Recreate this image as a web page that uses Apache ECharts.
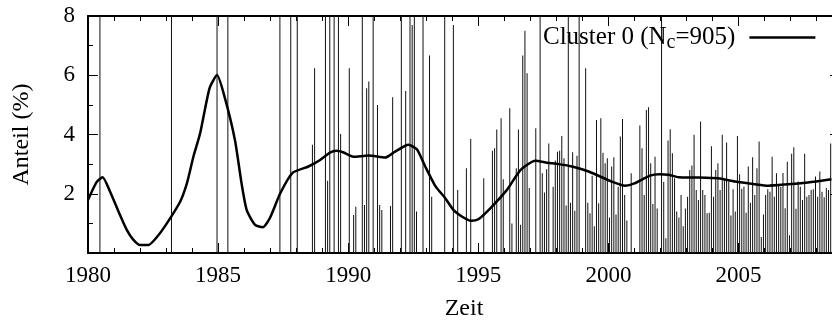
<!DOCTYPE html>
<html>
<head>
<meta charset="utf-8">
<script src="https://cdn.jsdelivr.net/npm/echarts@6/dist/echarts.min.js"></script>
<style>
  html, body { margin: 0; padding: 0; background: #fff; }
  #chart { width: 832px; height: 320px; }
</style>
</head>
<body>
<div id="chart"></div>
<script>
// Monthly share (%) of cluster 0, one row per year starting January 1980.
// Months where the cluster holds (nearly) all documents run far above the axis.
const startYear = 1980;
const monthlyShare = [
  0, 0, 0, 0, 0, 100, 0, 0, 0, 0, 0, 0,                               // 1980
  0, 0, 0, 0, 0, 0, 0, 0, 0, 0, 0, 0,                                 // 1981
  0, 0, 0, 0, 0, 0, 0, 0, 0, 0, 0, 0,                                 // 1982
  0, 0, 100, 0, 0, 0, 0, 0, 0, 0, 0, 0,                               // 1983
  0, 0, 0, 0, 0, 0, 0, 0, 0, 0, 0, 100,                               // 1984
  0, 0, 0, 0, 100, 0, 0, 0, 0, 0, 0, 0,                               // 1985
  0, 0, 0, 0, 0, 0, 0, 0, 0, 0, 0, 0,                                 // 1986
  0, 0, 0, 0, 100, 0, 0, 0, 0, 100, 0, 0,                             // 1987
  100, 0, 0, 0, 0, 0, 0, 3.65, 6.24, 0, 0, 0,                         // 1988
  0, 100, 2.44, 100, 0, 100, 0, 100, 4.02, 0, 0, 0,                   // 1989
  6.24, 0, 1.28, 1.56, 0, 0, 100, 1.62, 5.56, 5.79, 0, 100,           // 1990
  0, 5.0, 1.62, 1.45, 0, 0, 0, 1.59, 5.26, 0, 0, 0,                   // 1991
  100, 0, 5.47, 0, 100, 7.7, 100, 1.4, 0, 0, 100, 0,                  // 1992
  0, 6.67, 1.9, 0, 0, 0, 0, 0, 100, 0, 0, 0,                          // 1993
  7.7, 0, 2.13, 0, 0, 0, 2.86, 0, 3.85, 0, 0, 0,                      // 1994
  0, 0, 2.52, 0, 0, 0, 3.45, 3.54, 4.17, 0, 4.55, 2.49,               // 1995
  0, 0, 4.89, 1.0, 0, 2.86, 4.17, 0.95, 6.67, 7.5, 6.07, 2.19,        // 1996
  0, 0, 4.21, 0, 12, 2.69, 2.04, 2.83, 3.7, 0, 2.24, 3.12,            // 1997
  3.42, 3.45, 3.95, 3.2, 1.6, 12, 1.7, 3.4, 1.43, 3.28, 12, 0,        // 1998
  0, 6.24, 1.7, 1.34, 2.61, 0.9, 4.49, 1.68, 4.55, 3.38, 3.03, 3.2,   // 1999
  1.2, 2.92, 3.23, 1.3, 2.24, 3.93, 4.52, 1.96, 1.1, 0, 2.69, 0,      // 2000
  0, 0, 4.3, 3.54, 1.96, 4.83, 4.92, 3.03, 1.65, 3.25, 1.5, 0,        // 2001
  12, 2.4, 0.5, 3.8, 4.18, 3.37, 2.52, 1.4, 1.2, 1.96, 0.9, 1.5,      // 2002
  1.9, 2.8, 2.95, 3.99, 2.13, 1.79, 4.44, 2.13, 1.96, 1.34, 1.36, 3.6,// 2003
  1.9, 2.8, 3.03, 2.13, 3.99, 2.5, 3.73, 2.41, 1.27, 2.15, 1.4, 3.95, // 2004
  2.66, 2.17, 2.24, 1.36, 2.92, 1.7, 3.23, 1.96, 2.86, 3.76, 0.54, 1.3,// 2005
  1.96, 2.15, 2.07, 3.25, 1.9, 2.69, 2.3, 2.24, 2.7, 1.51, 3.08, 0.6, // 2006
  3.35, 3.57, 1.49, 2.41, 2.24, 1.79, 3.35, 1.9, 1.96, 2.13, 2.15, 2.58,// 2007
  1.9, 2.75, 2.07, 1.88, 2.19, 2.13, 3.7                              // 2008
];

// Smoothed trend of the share
const trendTime = [
  1980.0, 1980.33, 1980.56, 1980.85, 1981.23, 1981.49, 1981.73, 1982.0, 1982.32,
  1982.64, 1983.03, 1983.54, 1983.8, 1984.05, 1984.31, 1984.67, 1984.96, 1985.27,
  1985.65, 1985.9, 1986.1, 1986.42, 1986.72, 1987.0, 1987.38, 1987.87, 1988.47,
  1988.92, 1989.3, 1989.55, 1989.8, 1990.2, 1990.78, 1991.42, 1991.8, 1992.32,
  1992.64, 1992.96, 1993.35, 1993.73, 1994.05, 1994.43, 1994.72, 1995.0, 1995.46,
  1996.1, 1996.62, 1997.19, 1997.64, 1998.09, 1998.6, 1999.24, 2000.13, 2000.65,
  2001.0, 2001.6, 2001.95, 2002.3, 2002.7, 2003.33, 2004.22, 2004.86, 2005.62,
  2006.14, 2006.9, 2007.67, 2008.57
];
const trendShare = [
  1.79, 2.39, 2.56, 2.07, 1.28, 0.78, 0.46, 0.27, 0.27,
  0.53, 1.0, 1.73, 2.35, 3.25, 4.04, 5.56, 6.01, 5.2,
  3.8, 2.36, 1.45, 0.95, 0.87, 1.2, 2.0, 2.71, 2.92,
  3.14, 3.39, 3.45, 3.4, 3.25, 3.29, 3.22, 3.42, 3.65,
  3.5, 2.92, 2.26, 1.85, 1.45, 1.2, 1.09, 1.14, 1.51,
  2.13, 2.8, 3.11, 3.05, 3.0, 2.92, 2.75, 2.41, 2.27,
  2.35, 2.61, 2.66, 2.64, 2.56, 2.55, 2.52, 2.41, 2.32,
  2.27, 2.32, 2.38, 2.49
];

const yTicks = [0, 2, 4, 6, 8];
const yLabelValues = [2, 4, 6, 8];
const xLabelYears = [1980, 1985, 1990, 1995, 2000, 2005];
const seriesName = 'Cluster 0 (N_c=905)';

const X_MIN = 1980, X_MAX = 2008.9;
const FONT = '"Liberation Serif", "DejaVu Serif", serif';
const INK = '#000';

const impulseData = monthlyShare
  .map((v, m) => [startYear + (m + 0.5) / 12, v])
  .filter(d => d[1] > 0);
const trendData = trendTime.map((t, i) => [t, trendShare[i]]);

function xAxisDef(position, interval, tickLen, withLabels, withLine) {
  return {
    type: 'value', position: position, min: X_MIN, max: X_MAX, interval: interval,
    axisLine: { show: withLine, onZero: false, lineStyle: { color: INK, width: 2 } },
    axisTick: { show: true, inside: true, length: tickLen, lineStyle: { color: INK, width: 1 } },
    axisLabel: withLabels ? {
      show: true, margin: 11, color: INK, fontFamily: FONT, fontSize: 23,
      formatter: v => (xLabelYears.indexOf(Math.round(v * 100) / 100) >= 0 ? String(v) : '')
    } : { show: false },
    splitLine: { show: false },
    name: withLabels ? 'Zeit' : '',
    nameLocation: 'middle', nameGap: 44,
    nameTextStyle: { color: INK, fontFamily: FONT, fontSize: 24 }
  };
}

function yAxisDef(position, withLabels) {
  return {
    type: 'value', position: position, min: yTicks[0], max: yTicks[yTicks.length - 1],
    interval: yTicks[1] - yTicks[0],
    axisLine: { show: true, onZero: false, lineStyle: { color: INK, width: 2 } },
    axisTick: { show: true, inside: true, length: 10, lineStyle: { color: INK, width: 1 } },
    minorTick: { show: true, splitNumber: 2, length: 5, lineStyle: { color: INK, width: 1 } },
    axisLabel: withLabels ? {
      show: true, margin: 13, color: INK, fontFamily: FONT, fontSize: 23,
      formatter: v => (yLabelValues.indexOf(v) >= 0 ? String(v) : '')
    } : { show: false },
    splitLine: { show: false },
    name: withLabels ? 'Anteil (%)' : '',
    nameLocation: 'middle', nameGap: 54, nameRotate: 90,
    nameTextStyle: { color: INK, fontFamily: FONT, fontSize: 24 }
  };
}

const chart = echarts.init(document.getElementById('chart'), null, { renderer: 'canvas' });
chart.setOption({
  animation: false,
  backgroundColor: '#fff',
  grid: {
    left: 88, top: 16, width: 752, height: 237,
    containLabel: false, outerBoundsMode: 'none'
  },
  xAxis: [
    xAxisDef('bottom', 1, 5, true, true),
    xAxisDef('bottom', 5, 10, false, false),
    xAxisDef('top', 1, 5, false, true),
    xAxisDef('top', 5, 10, false, false)
  ],
  yAxis: [
    yAxisDef('left', true),
    yAxisDef('right', false)
  ],
  legend: {
    show: true,
    left: 538, top: 20,
    align: 'right',
    icon: 'rect', itemWidth: 66, itemHeight: 2.5,
    data: [seriesName],
    formatter: () => 'Cluster 0 (N{sub|c}=905)',
    textStyle: {
      color: INK, fontFamily: FONT, fontSize: 25, padding: [0, 9, 0, 0],
      rich: { sub: { fontFamily: FONT, fontSize: 20, padding: [11, 0, 0, 0], color: INK } }
    }
  },
  series: [
    {
      name: 'monthly', type: 'bar', xAxisIndex: 0, yAxisIndex: 0,
      data: impulseData, barWidth: 1, clip: true,
      itemStyle: { color: '#111' }, silent: true, z: 1
    },
    {
      name: seriesName, type: 'line', xAxisIndex: 0, yAxisIndex: 0,
      data: trendData, showSymbol: false, symbol: 'none', smooth: 0.2,
      lineStyle: { color: INK, width: 2.5 }, itemStyle: { color: INK }, z: 3
    }
  ]
});
</script>
</body>
</html>
